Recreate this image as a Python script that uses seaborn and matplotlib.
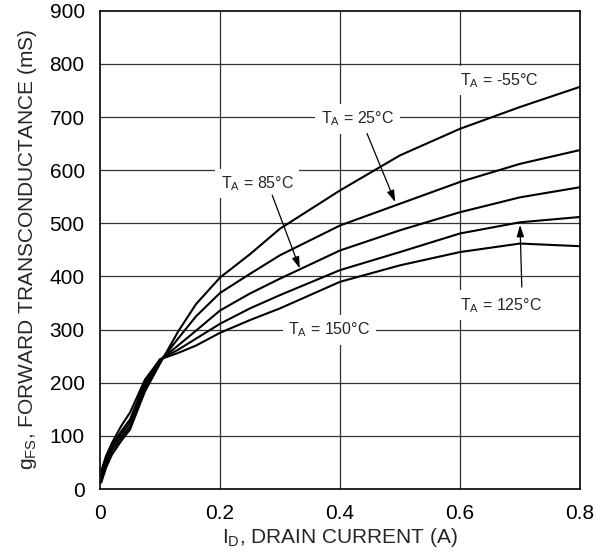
import matplotlib
matplotlib.use("Agg")
import matplotlib.pyplot as plt
import seaborn as sns
import pandas as pd

# ---- data ----
drain_current = [0.002, 0.01, 0.02, 0.035, 0.05, 0.075, 0.1, 0.13, 0.16, 0.2,
                 0.25, 0.3, 0.4, 0.5, 0.6, 0.7, 0.8]
gfs_m55 = [12, 40, 65, 90, 112, 184, 236, 296, 348, 398, 442, 490, 562, 628, 678, 719, 757]
gfs_25 = [16, 46, 72, 96, 118, 190, 240, 283, 325, 369, 405, 440, 496, 537, 578, 612, 638]
gfs_85 = [22, 52, 78, 102, 125, 196, 243, 270, 298, 336, 368, 396, 449, 487, 521, 549, 568]
gfs_125 = [28, 57, 82, 108, 131, 201, 244, 262, 283, 311, 340, 365, 412, 446, 481, 502, 512]
gfs_150 = [34, 62, 87, 118, 144, 206, 244, 256, 270, 294, 318, 340, 390, 421, 446, 462, 457]
temps = ["-55", "25", "85", "125", "150"]

x_ticks = [0, 0.2, 0.4, 0.6, 0.8]
x_tick_labels = ["0", "0.2", "0.4", "0.6", "0.8"]
y_ticks = [0, 100, 200, 300, 400, 500, 600, 700, 800, 900]

series = [gfs_m55, gfs_25, gfs_85, gfs_125, gfs_150]
rows = []
for t, vals in zip(temps, series):
    for xv, yv in zip(drain_current, vals):
        rows.append({"I": xv, "g": yv, "T": t})
df = pd.DataFrame(rows)

sns.set_style("white")
plt.rcParams["font.family"] = ["Liberation Sans", "DejaVu Sans"]
plt.rcParams["mathtext.default"] = "regular"

fig = plt.figure(figsize=(6.0, 5.56), dpi=100)
ax = fig.add_axes([0.1667, 0.1205, 0.80, 0.86])

sns.lineplot(data=df, x="I", y="g", hue="T", hue_order=temps,
             palette=["black"] * 5, estimator=None, sort=False,
             linewidth=1.5, legend=False, ax=ax, zorder=3)

ax.set_xlim(0, 0.8)
ax.set_ylim(0, 900)
ax.set_xticks(x_ticks)
ax.set_xticklabels(x_tick_labels)
ax.set_yticks(y_ticks)
ax.tick_params(axis="both", length=0, labelsize=15, colors="black")
ax.tick_params(axis="x", pad=11)
ax.tick_params(axis="y", pad=11)

for xv in [0.2, 0.4, 0.6]:
    ax.axvline(xv, color="#333333", lw=0.9, zorder=1)
for yv in range(100, 900, 100):
    ax.axhline(yv, color="#333333", lw=0.9, zorder=1)

for s in ax.spines.values():
    s.set_color("black")
    s.set_linewidth(1.2)
    s.set_visible(True)

ax.set_xlabel(r"I$_\mathregular{D}$, DRAIN CURRENT (A)", fontsize=15, labelpad=2)
ax.set_ylabel(r"g$_\mathregular{FS}$, FORWARD TRANSCONDUCTANCE (mS)", fontsize=15, labelpad=8)

box = dict(boxstyle="square,pad=0.35", fc="white", ec="none")
lab_kw = dict(fontsize=11.5, ha="center", va="center", bbox=box, zorder=4)
ax.text(0.665, 769, r"T$_\mathregular{A}$ = -55°C", **lab_kw)
ax.text(0.429, 697, r"T$_\mathregular{A}$ = 25°C", **lab_kw)
ax.text(0.262, 575, r"T$_\mathregular{A}$ = 85°C", **lab_kw)
ax.text(0.668, 346, r"T$_\mathregular{A}$ = 125°C", **lab_kw)
ax.text(0.382, 299, r"T$_\mathregular{A}$ = 150°C", **lab_kw)

arr = dict(arrowstyle="-|>,head_length=0.7,head_width=0.22", color="black",
           lw=0.9, shrinkA=0, shrinkB=0)
ax.annotate("", xy=(0.492, 540), xytext=(0.445, 669), arrowprops=arr, zorder=5)
ax.annotate("", xy=(0.333, 415), xytext=(0.287, 553), arrowprops=arr, zorder=5)
ax.annotate("", xy=(0.700, 497), xytext=(0.703, 380), arrowprops=arr, zorder=5)

fig.savefig("out.png", dpi=100)
